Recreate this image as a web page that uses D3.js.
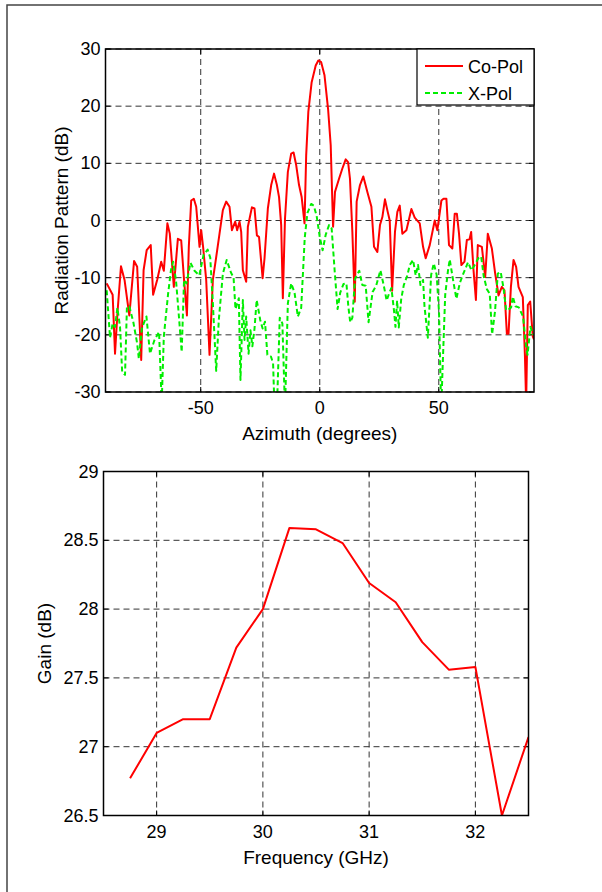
<!DOCTYPE html>
<html>
<head>
<script src="https://d3js.org/d3.v7.min.js"></script>
<style>
  body { margin: 0; background: #fff; }
  text { font-family: Arial, "Liberation Sans", sans-serif; fill: #000; }
</style>
</head>
<body>
<svg id="chart"></svg>
<script>
// ---- data ----
const coPolAz = [-89.5,-87,-86,-85,-83.5,-82,-80,-78,-76.7,-75,-74,-72.7,-71,-70,-68.3,-66.6,-65.5,-64,-63,-61.3,
  -59.6,-58.2,-57,-55.8,-55,-54,-52.9,-51.9,-50.5,-49.8,-49,-47.7,-46.3,-44.9,-43.5,-42.1,-40.7,-39.3,-37.9,-36.9,
  -35.5,-34.7,-33.7,-33,-32.3,-30.9,-30.2,-28.5,-27.4,-26.4,-25.5,-24,-23.2,-21.8,-20.4,-19.2,-18,-17.1,-16.2,-15.5,
  -14.6,-13.4,-12,-11,-9.9,-8.7,-7.6,-6.4,-5.7,-4.8,-3.4,-1.7,-0.6,0.6,2,3.5,4.6,5.6,6.4,8.1,
  9.5,10.9,11.9,12.7,13.7,14.7,15.5,16.9,18.3,20,21.7,22.8,24.2,25.3,26.3,27.4,28.5,29.4,30.4,31.6,
  32.6,33.6,34.7,36.4,38.5,39.9,42,43.4,44.5,46.2,48.3,49.4,51.1,52,53.2,54.3,55.7,56.7,57.6,58.5,
  59.5,60.8,61.8,62.9,63.6,64.6,65.6,66.4,68.1,69.5,70.6,72.3,73.7,75.1,76.5,77.6,78.6,79.3,80.3,81.4,
  82.5,83.5,85.3,86.2,86.7,87.4,88.4,89.5,90];
const coPolDb = [-11,-13,-23.3,-16.3,-8,-10.4,-16.6,-7.1,-8.1,-24.4,-8.7,-5.2,-4.3,-13,-10.4,-7.2,-8.8,-0.5,-2.3,-11.6,
  -3.2,-3.5,-10.4,-16.6,-4.6,3.5,3.8,2.4,-4.6,-1.7,-4.6,-10.4,-23.5,-10.4,-6.4,-2.3,1.8,3.3,2.4,-1.7,
  -0.2,-1.7,-0.2,-2,-8.7,-10.7,-1.1,2.3,2.1,-2.6,-2.9,-10.1,-6.6,2.1,6.2,8.2,6.2,4.1,-0.8,-13.6,
  0.3,8.5,11.7,11.9,9.7,6.2,4.1,-0.5,11.4,19,24.2,27.1,28,27.7,25.4,19.5,13.2,-1.1,5,7.3,
  9.1,10.7,10.2,7.3,-2,-14.2,3.3,6.2,7.7,5,2.4,-4.6,-5.5,-0.8,0.6,3.7,1.6,0,-12.3,-2,
  1.5,2.6,-2.3,-1.7,2,0.5,-0.5,-4.6,-6.6,-4.3,0,-1.7,3.5,3.8,3.8,-4.3,-4.9,1.2,1.2,-2.3,
  -7.8,-7.2,-3.4,-3.3,-2,-8.7,-13.9,-4.3,-4.6,-9.9,-2.3,-4.9,-9.3,-13.1,-11.6,-12.2,-19.8,-19.8,-11.6,-6.9,
  -8.1,-11.6,-13.4,-23.8,-32,-14.8,-14.2,-20.3,-20.8];

const xPolAz = [-89.5,-88.1,-87,-86,-85,-83.9,-83,-81.8,-81,-80,-78.3,-76.7,-76,-74.7,-72.8,-71.3,-69.5,-67.5,-66.4,-65.5,
  -63.7,-62.5,-61.6,-60.4,-59.5,-58,-57,-56,-54.3,-52.6,-50.6,-48.8,-47.1,-46,-44.9,-43.5,-42.4,-40.7,-39.1,-37.3,
  -36.2,-35.4,-34,-33.3,-32.3,-31.6,-30.9,-29.9,-29.1,-28.3,-27.4,-26.5,-25,-24,-23,-22,-20.5,-19.6,-19,-18,
  -16.8,-15.7,-14.6,-13.4,-12,-10.6,-9.2,-7.8,-6.3,-5.2,-3.6,-2.5,-1.3,0,1.2,2.5,3.9,5,6.3,7.5,
  8.6,10,11.2,12,12.8,13.7,14.8,16.6,17.9,19.3,20.5,22.2,23.7,25.5,27,28.1,29.1,30.1,31.2,31.8,
  32.5,33.2,34.2,35.3,36.8,37.8,39.2,40.3,41.3,42.3,43.4,44,45.4,46.8,47.9,49.1,50.1,51,52.7,53.8,
  54.6,56,57.4,58.8,60.4,62.3,63.7,64.8,66.6,67.8,68.9,70.2,71.4,72.4,73.6,74.8,76,77.2,78.3,79.5,
  80.4,81.1,82.2,83.6,85.4,86.7,87.3,88.5,89.6];
const xPolDb = [-12.2,-20.5,-18,-18.6,-15.3,-18.6,-26.5,-27,-15.1,-15,-17.8,-21.5,-24.2,-18.8,-16.8,-23.3,-21,-19.5,-32,-20.3,
  -12.8,-8.7,-7.2,-10.4,-15,-23,-10.4,-11,-7.4,-8.8,-9.6,-6,-5.1,-6.5,-14.5,-26.3,-17.4,-9.3,-6.9,-9.1,
  -10,-15.5,-13.6,-27.9,-13.9,-20.9,-16.8,-23.3,-19.2,-22,-18.9,-13.9,-17.4,-18.9,-17.7,-23.5,-23.8,-25,-33,-33,
  -17,-18,-33,-14.5,-11,-12.6,-16.8,-15.3,-3,1.3,2.9,2.6,0.8,-2.9,-5.2,-2.5,-0.8,-1.4,-9,-15.5,
  -12.6,-11.1,-11,-15,-17.8,-17,-10.2,-8.8,-11.3,-11.4,-17.8,-12.5,-11.4,-8.7,-11.6,-14,-12.8,-11.8,-15.8,-18.6,
  -14,-18.7,-13.8,-11.3,-9.6,-7.8,-6.9,-9.6,-7.8,-11.3,-10.4,-15,-20.5,-9.5,-7.5,-9.5,-16,-33,-13,-9,
  -6.8,-10.4,-13.7,-11,-9.2,-7.3,-8.7,-8,-6.6,-6.3,-9.8,-12,-12.8,-19.9,-16,-9.3,-9,-11.8,-15.7,-15.5,
  -15.2,-13.3,-15,-15.2,-16.8,-22.1,-23.5,-18.6,-20];

const freqGHz = [28.75,29,29.25,29.5,29.75,30,30.25,30.5,30.75,31,31.25,31.5,31.75,32,32.25,32.5];
const gainDb  = [26.77,27.1,27.2,27.2,27.72,28.0,28.59,28.58,28.48,28.19,28.05,27.76,27.56,27.58,26.5,27.07];

const azTicks   = [-50, 0, 50];
const patTicks  = [-30, -20, -10, 0, 10, 20, 30];
const freqTicks = [29, 30, 31, 32];
const gainTicks = [26.5, 27, 27.5, 28, 28.5, 29];

// ---- drawing ----
const W = 602, H = 892;
const svg = d3.select("#chart").attr("width", W).attr("height", H);

svg.append("rect")
  .attr("x", 7).attr("y", 5).attr("width", 700).attr("height", 1000)
  .attr("fill", "none").attr("stroke", "#444").attr("stroke-width", 1.5);

function panel(cfg) {
  const x = d3.scaleLinear().domain(cfg.xDomain).range([cfg.left, cfg.right]);
  const y = d3.scaleLinear().domain(cfg.yDomain).range([cfg.bottom, cfg.top]);
  const g = svg.append("g");

  // grid
  g.selectAll(".gx").data(cfg.xTicks).join("line")
    .attr("x1", d => x(d)).attr("x2", d => x(d))
    .attr("y1", cfg.top).attr("y2", cfg.bottom)
    .attr("stroke", "#333").attr("stroke-width", 1).attr("stroke-dasharray", "6,4");
  g.selectAll(".gy").data(cfg.yTicks).join("line")
    .attr("x1", cfg.left).attr("x2", cfg.right)
    .attr("y1", d => y(d)).attr("y2", d => y(d))
    .attr("stroke", "#333").attr("stroke-width", 1).attr("stroke-dasharray", "6,4");

  // inward ticks on all sides
  const tk = 5;
  cfg.xTicks.forEach(d => {
    g.append("line").attr("x1", x(d)).attr("x2", x(d)).attr("y1", cfg.bottom).attr("y2", cfg.bottom - tk).attr("stroke", "#000");
    g.append("line").attr("x1", x(d)).attr("x2", x(d)).attr("y1", cfg.top).attr("y2", cfg.top + tk).attr("stroke", "#000");
  });
  cfg.yTicks.forEach(d => {
    g.append("line").attr("x1", cfg.left).attr("x2", cfg.left + tk).attr("y1", y(d)).attr("y2", y(d)).attr("stroke", "#000");
    g.append("line").attr("x1", cfg.right).attr("x2", cfg.right - tk).attr("y1", y(d)).attr("y2", y(d)).attr("stroke", "#000");
  });

  // clip
  const cid = "clip" + cfg.id;
  svg.append("clipPath").attr("id", cid).append("rect")
    .attr("x", cfg.left).attr("y", cfg.top)
    .attr("width", cfg.right - cfg.left).attr("height", cfg.bottom - cfg.top);

  const line = d3.line().x(d => x(d[0])).y(d => y(d[1]));
  cfg.series.forEach(s => {
    g.append("path")
      .datum(d3.zip(s.xs, s.ys))
      .attr("clip-path", `url(#${cid})`)
      .attr("fill", "none").attr("stroke", s.color).attr("stroke-width", 2)
      .attr("stroke-dasharray", s.dash || null)
      .attr("stroke-linejoin", "round")
      .attr("d", line);
  });

  // box
  g.append("rect")
    .attr("x", cfg.left).attr("y", cfg.top)
    .attr("width", cfg.right - cfg.left).attr("height", cfg.bottom - cfg.top)
    .attr("fill", "none").attr("stroke", "#000").attr("stroke-width", 1.5);

  // tick labels
  g.selectAll(".tx").data(cfg.xTicks).join("text")
    .attr("x", d => x(d)).attr("y", cfg.bottom + 22)
    .attr("text-anchor", "middle").style("font-size", "18px")
    .text(d => String(d));
  g.selectAll(".ty").data(cfg.yTicks).join("text")
    .attr("x", cfg.left - 5).attr("y", d => y(d) + 6)
    .attr("text-anchor", "end").style("font-size", "18px")
    .text(d => String(d));

  // axis titles
  g.append("text")
    .attr("x", (cfg.left + cfg.right) / 2).attr("y", cfg.bottom + 48)
    .attr("text-anchor", "middle").style("font-size", "19px")
    .text(cfg.xLabel);
  g.append("text")
    .attr("transform", `translate(${cfg.left - cfg.yLabelGap},${(cfg.top + cfg.bottom) / 2}) rotate(-90)`)
    .attr("text-anchor", "middle").style("font-size", "19px")
    .text(cfg.yLabel);

  return { x, y, g };
}

const patternPanel = panel({
  id: "a", left: 105.5, right: 534, top: 49, bottom: 392,
  xDomain: [-90, 90], yDomain: [-30, 30],
  xTicks: azTicks, yTicks: patTicks,
  xLabel: "Azimuth (degrees)", yLabel: "Radiation Pattern (dB)", yLabelGap: 38,
  series: [
    { xs: coPolAz, ys: coPolDb, color: "#ff0000" },
    { xs: xPolAz, ys: xPolDb, color: "#00ee00", dash: "5,3" }
  ]
});

// legend
const lg = patternPanel.g.append("g");
lg.append("rect").attr("x", 417).attr("y", 49).attr("width", 117).attr("height", 56)
  .attr("fill", "#fff").attr("stroke", "#000").attr("stroke-width", 1.2);
const legendItems = [
  { name: "Co-Pol", color: "#ff0000", dash: null },
  { name: "X-Pol", color: "#00ee00", dash: "5,3" }
];
legendItems.forEach((it, i) => {
  const ly = 66 + i * 27;
  lg.append("line").attr("x1", 425).attr("x2", 463).attr("y1", ly).attr("y2", ly)
    .attr("stroke", it.color).attr("stroke-width", 2).attr("stroke-dasharray", it.dash);
  lg.append("text").attr("x", 468).attr("y", ly + 6.5).style("font-size", "18px").text(it.name);
});

panel({
  id: "b", left: 103.5, right: 528.5, top: 471.5, bottom: 815.5,
  xDomain: [28.5, 32.5], yDomain: [26.5, 29],
  xTicks: freqTicks, yTicks: gainTicks,
  xLabel: "Frequency (GHz)", yLabel: "Gain (dB)", yLabelGap: 53,
  series: [{ xs: freqGHz, ys: gainDb, color: "#ff0000" }]
});
</script>
</body>
</html>
